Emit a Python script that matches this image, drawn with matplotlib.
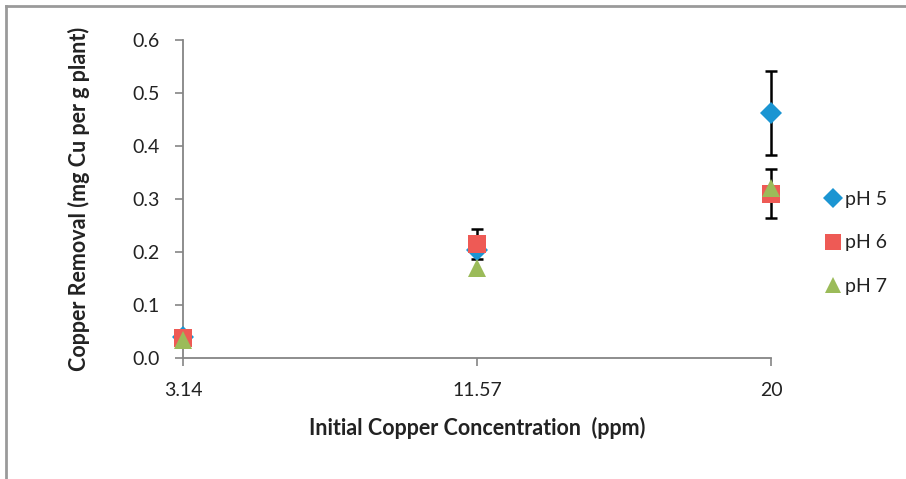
import numpy as np
import matplotlib.pyplot as plt
from matplotlib.lines import Line2D

plt.rcParams['font.family'] = ['Lato', 'DejaVu Sans']

# Copper uptake by pH and initial concentration
concentrations = ["3.14", "11.57", "20"]
ph5 = [0.040, 0.204, 0.462]
ph6 = [0.038, 0.215, 0.310]
ph7 = [0.034, 0.170, 0.320]
ph5_err = [0.0, 0.0, 0.079]
ph6_err = [0.0, 0.028, 0.046]

series = [
    ("pH 5", ph5, ph5_err, "D", "#1B95D2", 11),
    ("pH 6", ph6, ph6_err, "s", "#EE5A55", 13.5),
    ("pH 7", ph7, None, "^", "#9BBB59", 13),
]

fig = plt.figure(figsize=(9.06, 4.79), dpi=100)
ax = fig.add_axes([0.202, 0.2526, 0.649, 0.6639])

x = np.arange(len(concentrations))
for label, vals, err, mk, col, ms in series:
    if err is not None:
        e = np.array(err)
        keep = e > 0
        ax.errorbar(x[keep], np.array(vals)[keep], yerr=e[keep], fmt="none",
                    ecolor="black", elinewidth=1.8, capsize=4, capthick=1.8,
                    zorder=2)
    ax.plot(x, vals, linestyle="none", marker=mk, markersize=ms,
            color=col, markeredgewidth=0, label=label, zorder=3)

ax.set_xlim(0, 2)
ax.set_ylim(0, 0.6)
ax.set_xticks(x)
ax.set_xticklabels(concentrations)
ax.set_yticks(np.arange(0, 0.61, 0.1))
ax.set_yticklabels([f"{v:.1f}" for v in np.arange(0, 0.61, 0.1)])
ax.tick_params(axis="both", labelsize=14, colors="#858585", labelcolor="#222222",
               length=6, width=1.2)
ax.tick_params(axis="x", pad=11)
ax.tick_params(axis="y", pad=11)
for side in ("top", "right"):
    ax.spines[side].set_visible(False)
for side in ("left", "bottom"):
    ax.spines[side].set_color("#858585")
    ax.spines[side].set_linewidth(1.3)
for art in ax.lines + ax.collections:
    art.set_clip_on(False)

ax.set_xlabel("Initial Copper Concentration  (ppm)", fontsize=15.5,
              fontweight="bold", color="#222222", labelpad=13)
ax.set_ylabel("Copper Removal (mg Cu per g plant)", fontsize=15.5,
              fontweight="bold", color="#222222", labelpad=30)

handles = [Line2D([], [], linestyle="none", marker=mk, color=col,
                  markersize=ms * 0.9, markeredgewidth=0)
           for _, _, _, mk, col, ms in series]
fig.legend(handles, [s[0] for s in series], loc="center left",
           bbox_to_anchor=(0.888, 0.493), frameon=False, fontsize=14,
           handletextpad=0.1, handlelength=1.1, labelspacing=1.38,
           labelcolor="#222222")

# outer frame around the chart area
fig.add_artist(Line2D([0.007, 1.0], [0.987, 0.987], color="#9a9a9a", lw=2))
fig.add_artist(Line2D([0.007, 0.007], [0.0, 0.987], color="#9a9a9a", lw=2))

fig.savefig("out.png", dpi=100)
